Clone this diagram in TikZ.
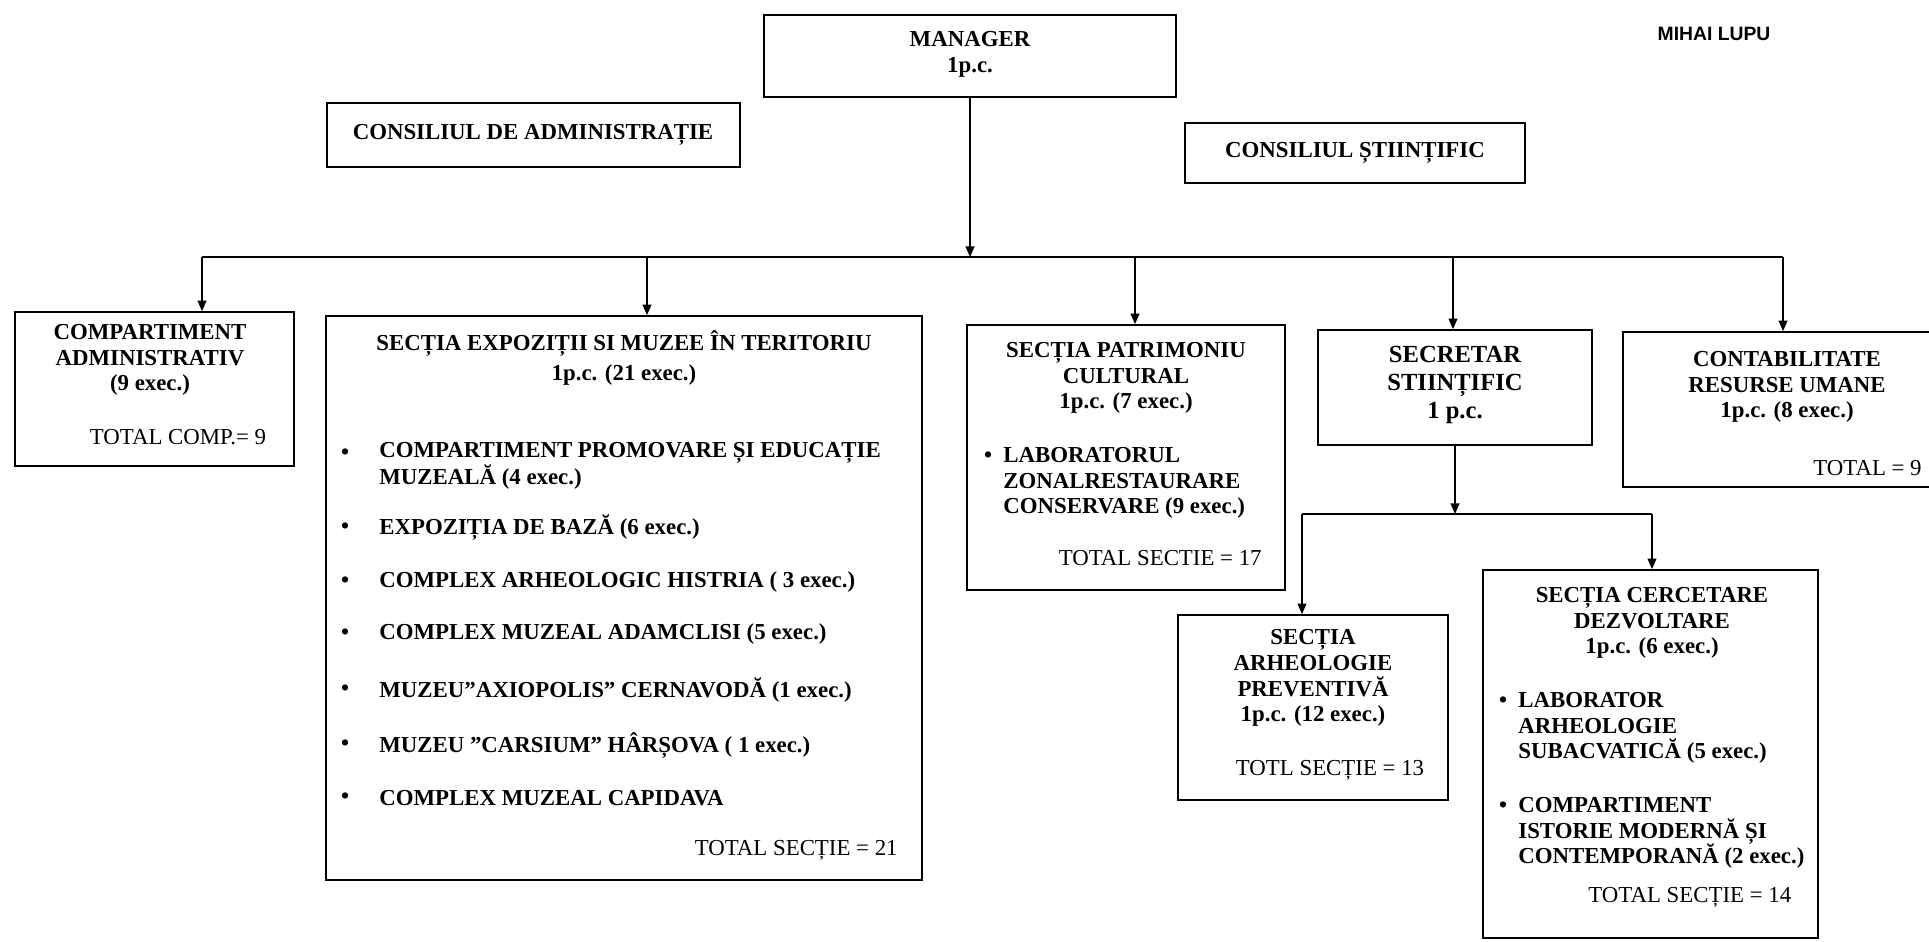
\documentclass[tikz,border=0pt]{standalone}
\usepackage{fontspec}
\setmainfont{Liberation Serif}
\newfontfamily\signfont{Liberation Sans}
\usetikzlibrary{arrows.meta, fit}

\tikzset{
  box/.style={draw, line width=1pt, inner sep=0pt},
  txt/.style={inner sep=0pt, align=center, font=\fontsize{13}{14.7}\selectfont\bfseries},
  lst/.style={inner sep=0pt, align=left, anchor=west, font=\fontsize{13}{14.7}\selectfont\bfseries},
  tot/.style={inner sep=0pt, font=\fontsize{13}{14.7}\selectfont},
  dot/.style={inner sep=0pt, font=\fontsize{13}{14.7}\selectfont\bfseries},
  arr/.style={line width=0.9pt, -{Triangle[length=6pt,width=5pt]}},
  link/.style={line width=0.9pt}
}

\begin{document}
\begin{tikzpicture}[x=0.02cm, y=-0.02cm]
    \useasboundingbox (0,0) rectangle (1929,942);

    % semnatura
    \node[inner sep=0pt, font=\signfont\fontsize{11}{13}\selectfont\bfseries] (lupu) at (1714,34) {MIHAI LUPU};

    % conducere
    \node[box, fit={(764,15) (1176,97)}] (mgr) {};
    \node[txt] (mgrT) at (970,54) {MANAGER\\1p.c.};
    \node[box, fit={(327,103) (740,167)}] (cadm) {};
    \node[txt] (cadmT) at (533,135) {CONSILIUL DE ADMINISTRAȚIE};
    \node[box, fit={(1185,123) (1525,183)}] (cst) {};
    \node[txt] (cstT) at (1355,153) {CONSILIUL ȘTIINȚIFIC};

    % compartiment administrativ
    \node[box, fit={(15,312) (294,466)}] (compadm) {};
    \node[txt] (compadmT) at (150,360) {COMPARTIMENT\\ADMINISTRATIV\\(9 exec.)};
    \node[tot] (compadmTot) at (178,437) {TOTAL COMP.= 9};

    % sectia expozitii
    \node[box, fit={(326,316) (922,880)}] (expo) {};
    \node[txt] (expoT) at (624,358) {SECȚIA EXPOZIȚII SI MUZEE ÎN TERITORIU\\[2pt]1p.c. (21 exec.)};
    \node[dot] (e1) at (345,454) {\textbullet};
    \node[lst, font=\fontsize{13}{13.8}\selectfont\bfseries] (e1T) at (379,466) {COMPARTIMENT PROMOVARE ȘI EDUCAȚIE\\MUZEALĂ (4 exec.)};
    \node[dot] (e2) at (345,528) {\textbullet};
    \node[lst] (e2T) at (379,528) {EXPOZIȚIA DE BAZĂ (6 exec.)};
    \node[dot] (e3) at (345,582) {\textbullet};
    \node[lst] (e3T) at (379,582) {COMPLEX ARHEOLOGIC HISTRIA ( 3 exec.)};
    \node[dot] (e4) at (345,634) {\textbullet};
    \node[lst] (e4T) at (379,634) {COMPLEX MUZEAL ADAMCLISI (5 exec.)};
    \node[dot] (e5) at (345,690) {\textbullet};
    \node[lst] (e5T) at (379,690) {MUZEU”AXIOPOLIS” CERNAVODĂ (1 exec.)};
    \node[dot] (e6) at (345,745) {\textbullet};
    \node[lst] (e6T) at (379,745) {MUZEU ”CARSIUM” HÂRȘOVA ( 1 exec.)};
    \node[dot] (e7) at (345,798) {\textbullet};
    \node[lst] (e7T) at (379,798) {COMPLEX MUZEAL CAPIDAVA};
    \node[tot, anchor=east] (expoTot) at (898,850) {TOTAL SECȚIE = 21};

    % sectia patrimoniu
    \node[box, fit={(967,325) (1285,590)}] (patr) {};
    \node[txt] (patrT) at (1126,378) {SECȚIA PATRIMONIU\\CULTURAL\\1p.c. (7 exec.)};
    \node[dot] (p1) at (988,457) {\textbullet};
    \node[lst] (p1T) at (1003,483) {LABORATORUL\\ZONALRESTAURARE\\CONSERVARE (9 exec.)};
    \node[tot, anchor=east] (patrTot) at (1262,558) {TOTAL SECTIE = 17};

    % secretar stiintific
    \node[box, fit={(1318,330) (1592,445)}] (secr) {};
    \node[txt, font=\fontsize{14}{15.9}\selectfont\bfseries] (secrT) at (1455,385) {SECRETAR\\STIINȚIFIC\\1 p.c.};

    % contabilitate
    \node[box, fit={(1623,332) (1960,487)}] (contab) {};
    \node[txt] (contabT) at (1787,387) {CONTABILITATE\\RESURSE UMANE\\1p.c. (8 exec.)};
    \node[tot, anchor=east] (contabTot) at (1922,468) {TOTAL = 9};

    % sectia arheologie preventiva
    \node[box, fit={(1178,615) (1448,800)}] (arh) {};
    \node[txt] (arhT) at (1313,678) {SECȚIA\\ARHEOLOGIE\\PREVENTIVĂ\\1p.c. (12 exec.)};
    \node[tot] (arhTot) at (1330,770) {TOTL SECȚIE = 13};

    % sectia cercetare dezvoltare
    \node[box, fit={(1483,570) (1818,938)}] (cerc) {};
    \node[txt] (cercT) at (1652,623) {SECȚIA CERCETARE\\DEZVOLTARE\\1p.c. (6 exec.)};
    \node[dot] (c1) at (1503,702) {\textbullet};
    \node[lst] (c1T) at (1518,728) {LABORATOR\\ARHEOLOGIE\\SUBACVATICĂ (5 exec.)};
    \node[dot] (c2) at (1503,807) {\textbullet};
    \node[lst] (c2T) at (1518,833) {COMPARTIMENT\\ISTORIE MODERNĂ ȘI\\CONTEMPORANĂ (2 exec.)};
    \node[tot, anchor=west] (cercTot) at (1588,897) {TOTAL SECȚIE = 14};

    % legaturi
    \coordinate (hubL) at (202,257);
    \coordinate (hubE) at (647,257);
    \coordinate (hubP) at (1135,257);
    \coordinate (hubS) at (1453,257);
    \coordinate (hubR) at (1783,257);
    \draw[link] (hubL) -- (hubR);
    \draw[arr] (mgr.south) -- (mgr.south |- hubL);
    \draw[arr] (hubL) -- (hubL |- compadm.north);
    \draw[arr] (hubE) -- (hubE |- expo.north);
    \draw[arr] (hubP) -- (hubP |- patr.north);
    \draw[arr] (hubS) -- (hubS |- secr.north);
    \draw[arr] (hubR) -- (hubR |- contab.north);

    \coordinate (subL) at (1302,514);
    \coordinate (subR) at (1652,514);
    \draw[link] (subL) -- (subR);
    \draw[arr] (secr.south) -- (secr.south |- subL);
    \draw[arr] (subL) -- (subL |- arh.north);
    \draw[arr] (subR) -- (subR |- cerc.north);
\end{tikzpicture}
\end{document}
